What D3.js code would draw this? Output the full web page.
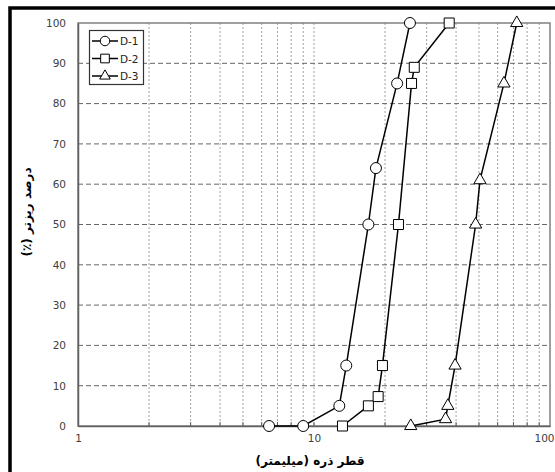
<!DOCTYPE html>
<html><head><meta charset="utf-8">
<script src="https://cdn.jsdelivr.net/npm/d3@7"></script>
<style>body{margin:0;background:#fff}svg{display:block}</style>
</head><body>
<svg id="c" width="555" height="472"></svg>
<script>
const seriesNames = ["D-1", "D-2", "D-3"];
const d1x = [6.45, 9.0, 12.8, 13.7, 17.0, 18.3, 22.5, 25.5];
const d1y = [0, 0, 5, 15, 50, 64, 85, 100];
const d2x = [13.2, 17.0, 18.7, 19.5, 22.8, 25.9, 26.6, 37.4];
const d2y = [0, 5, 7.3, 15, 50, 85, 89, 100];
const d3x = [25.7, 36.1, 36.9, 39.6, 48.4, 50.5, 63.8, 72.3];
const d3y = [0, 1.7, 5, 15, 50, 61, 85, 100];
const xTickLabels = [1, 10, 100];
const yTickLabels = [0, 10, 20, 30, 40, 50, 60, 70, 80, 90, 100];
const xLabel = "قطر ذره (میلیمتر)";
const yLabel = "درصد ریزتر (٪)";

const svg = d3.select("#c");
const L = 78, R = 550, T = 23, B = 426;
const x = d3.scaleLog().domain([1, 100]).range([L, R]);
const y = d3.scaleLinear().domain([0, 100]).range([B, T]);

// outer frame
svg.append("rect").attr("x", 10).attr("y", 8).attr("width", 600).attr("height", 600)
  .attr("fill", "none").attr("stroke", "#000").attr("stroke-width", 3.5);

// vertical minor grid
const vGrid = [];
[1, 10].forEach(d => { for (let k = 2; k <= 10; k++) if (k * d < 100) vGrid.push(k * d); });
svg.append("g").selectAll("line").data(vGrid).join("line")
  .attr("x1", d => x(d)).attr("x2", d => x(d)).attr("y1", T).attr("y2", B)
  .attr("stroke", "#a0a0a0").attr("stroke-width", 1).attr("stroke-dasharray", "2,2");
// horizontal grid
svg.append("g").selectAll("line").data(yTickLabels.filter(v => v > 0 && v < 100)).join("line")
  .attr("x1", L).attr("x2", R).attr("y1", d => y(d)).attr("y2", d => y(d))
  .attr("stroke", "#666").attr("stroke-width", 1).attr("stroke-dasharray", "5,3");

// plot border
svg.append("rect").attr("x", L).attr("y", T).attr("width", R - L).attr("height", B - T)
  .attr("fill", "none").attr("stroke", "#808080").attr("stroke-width", 1.5);

// axes
const xAxis = svg.append("g").attr("transform", `translate(0,${B})`)
  .call(d3.axisBottom(x).tickValues(xTickLabels).tickFormat(d3.format("d")).tickSize(0).tickPadding(9));
xAxis.select(".domain").attr("stroke", "#606060").attr("stroke-width", 1.5);
xAxis.selectAll(".tick text").filter(d => d === 100).attr("text-anchor", "end").attr("x", 4);
const yAxis = svg.append("g").attr("transform", `translate(${L},0)`)
  .call(d3.axisLeft(y).tickValues(yTickLabels).tickSize(0).tickPadding(12));
yAxis.select(".domain").attr("stroke", "#606060").attr("stroke-width", 1.5);
svg.selectAll(".tick text").attr("font-family", "DejaVu Sans, Verdana, sans-serif")
  .attr("font-size", 10.5).attr("fill", "#404040");

// minor tick marks on x axis
svg.append("g").selectAll("line").data(vGrid).join("line")
  .attr("x1", d => x(d)).attr("x2", d => x(d)).attr("y1", B).attr("y2", B - 4)
  .attr("stroke", "#606060").attr("stroke-width", 1);

// labels
svg.append("text").attr("x", 310).attr("y", 465).attr("text-anchor", "middle")
  .attr("font-family", "DejaVu Sans, sans-serif").attr("font-weight", "bold").attr("font-size", 12)
  .attr("direction", "rtl").text(xLabel);
svg.append("text").attr("transform", "translate(31,212) rotate(-90)").attr("text-anchor", "middle")
  .attr("font-family", "DejaVu Sans, sans-serif").attr("font-weight", "bold").attr("font-size", 12)
  .attr("direction", "rtl").text(yLabel);

// series
const series = [
  {name: seriesNames[0], xs: d1x, ys: d1y, sym: d3.symbolCircle, size: 95},
  {name: seriesNames[1], xs: d2x, ys: d2y, sym: d3.symbolSquare, size: 100},
  {name: seriesNames[2], xs: d3x, ys: d3y, sym: d3.symbolTriangle, size: 65}
];
const line = d3.line().x(d => x(d[0])).y(d => y(d[1]));
series.forEach(s => {
  const pts = s.xs.map((v, i) => [v, s.ys[i]]);
  svg.append("path").datum(pts).attr("d", line).attr("fill", "none")
    .attr("stroke", "#000").attr("stroke-width", 1.5);
  svg.append("g").selectAll("path").data(pts).join("path")
    .attr("transform", d => `translate(${x(d[0])},${y(d[1])})`)
    .attr("d", d3.symbol().type(s.sym).size(s.size))
    .attr("fill", "#fff").attr("stroke", "#000").attr("stroke-width", 1);
});

// legend
const lg = svg.append("g");
lg.append("rect").attr("x", 89.5).attr("y", 30.5).attr("width", 54).attr("height", 54)
  .attr("fill", "#fff").attr("stroke", "#333").attr("stroke-width", 1.2);
series.forEach((s, i) => {
  const yy = 41 + i * 17.5;
  lg.append("line").attr("x1", 92).attr("x2", 118).attr("y1", yy).attr("y2", yy)
    .attr("stroke", "#000").attr("stroke-width", 1.5);
  lg.append("path").attr("transform", `translate(105,${yy})`)
    .attr("d", d3.symbol().type(s.sym).size(s.size * 0.75))
    .attr("fill", "#fff").attr("stroke", "#000").attr("stroke-width", 1);
  lg.append("text").attr("x", 120).attr("y", yy + 4).attr("font-family", "DejaVu Sans, Verdana, sans-serif")
    .attr("font-size", 10.5).attr("fill", "#222").text(s.name);
});
</script>
</body></html>
